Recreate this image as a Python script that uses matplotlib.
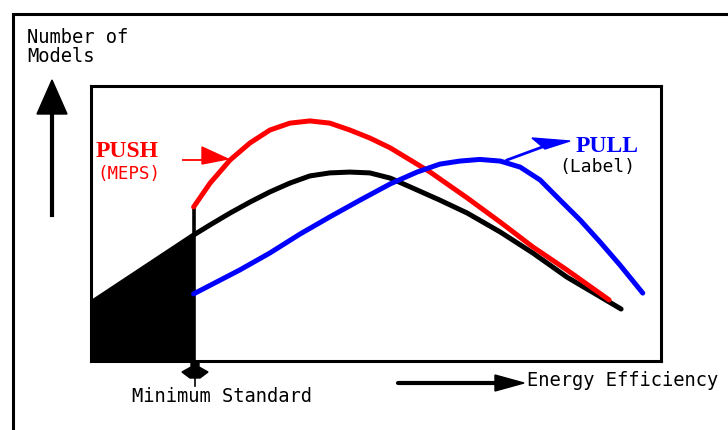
import matplotlib
matplotlib.use("Agg")
import matplotlib.pyplot as plt
from matplotlib.patches import Polygon

# ---------------- data (efficiency 0-100, number of models 0-100) ----------------
MIN_STANDARD = 18.0

black_x = [0.0, 18.0, 20.9, 24.4, 27.9, 31.4, 34.9, 38.4, 41.9, 45.4, 48.9, 52.5,
           56.0, 61.2, 66.0, 71.8, 77.5, 83.5, 93.0]
black_y = [21.1, 45.8, 49.5, 53.8, 57.8, 61.5, 64.7, 67.3, 68.4, 68.7, 68.4, 66.5,
           63.3, 58.5, 53.8, 46.9, 39.3, 30.5, 18.9]

push_x = [18.0, 20.9, 24.4, 27.9, 31.4, 34.9, 38.4, 41.9, 45.4, 48.9, 52.5, 56.0,
          59.5, 66.0, 71.8, 77.5, 83.5, 90.9]
push_y = [56.0, 64.7, 73.1, 79.3, 84.0, 86.5, 87.3, 86.5, 84.0, 81.1, 77.5, 73.1,
          68.7, 59.3, 50.5, 41.5, 33.1, 22.2]

pull_x = [18.0, 26.1, 31.4, 36.7, 41.9, 47.2, 52.5, 57.2, 61.2, 64.7, 68.2, 71.8,
          75.3, 78.8, 82.3, 85.8, 89.3, 92.8, 96.8]
pull_y = [24.4, 33.1, 39.3, 46.2, 52.4, 58.5, 64.4, 68.7, 71.6, 72.7, 73.3, 72.7,
          70.5, 65.8, 58.5, 51.3, 43.3, 34.9, 24.7]

y_label = "Number of\nModels"
x_label = "Energy Efficiency"
std_label = "Minimum Standard"
push_label, push_sub = "PUSH", "(MEPS)"
pull_label, pull_sub = "PULL", "(Label)"

# ---------------- figure ----------------
W, H = 728, 430
RED, BLUE, BLACK = "#ff0000", "#0000ff", "#000000"
MONO = "DejaVu Sans Mono"
SERIF = "Liberation Serif"

fig = plt.figure(figsize=(W / 100, H / 100), dpi=100)
fig.patch.set_facecolor("white")

ax = fig.add_axes([91 / W, (H - 361) / H, 570 / W, 275 / H])
ax.set_xlim(0, 100)
ax.set_ylim(0, 100)
ax.set_xticks([])
ax.set_yticks([])
for s in ax.spines.values():
    s.set_linewidth(2.2)

# shaded models below the minimum standard
fx = [x for x in black_x if x <= MIN_STANDARD]
fy = black_y[:len(fx)]
ax.fill_between(fx, 0, fy, color=BLACK, linewidth=0)

lw = 3.6
ax.plot(black_x, black_y, color=BLACK, lw=lw, solid_capstyle="round", solid_joinstyle="round")
ax.plot([MIN_STANDARD, MIN_STANDARD], [0, push_y[0]], color=BLACK, lw=2.6)
ax.plot(push_x, push_y, color=RED, lw=lw, solid_capstyle="round", solid_joinstyle="round")
ax.plot(pull_x, pull_y, color=BLUE, lw=lw, solid_capstyle="round", solid_joinstyle="round")

# ---------------- overlay in pixel coordinates for annotations ----------------
ov = fig.add_axes([0, 0, 1, 1], zorder=3)
ov.set_xlim(0, W)
ov.set_ylim(H, 0)
ov.axis("off")
ov.patch.set_alpha(0)

# outer frame (top and left)
ov.plot([12.5, 12.5, W + 2], [H + 2, 14, 14], color=BLACK, lw=2.2, solid_joinstyle="miter")

# vertical axis arrow
ov.plot([52, 52], [215, 108], color=BLACK, lw=3)
ov.add_patch(Polygon([(52, 80), (37, 114), (67, 114)], closed=True, color=BLACK))

# horizontal axis arrow
ov.plot([398, 500], [383, 383], color=BLACK, lw=3, solid_capstyle="round")
ov.add_patch(Polygon([(524, 383), (495, 375), (495, 391)], closed=True, color=BLACK))

# minimum-standard pin
ov.add_patch(Polygon([(191, 362), (199, 362), (199, 367), (208, 372), (200, 378),
                      (190, 378), (182, 372), (191, 367)], closed=True, color=BLACK))
ov.plot([195, 195], [377, 386], color=BLACK, lw=1.2)

# PUSH arrow
ov.plot([183, 206], [160, 160], color=RED, lw=1.3)
ov.add_patch(Polygon([(202, 147), (202, 164), (228, 159)], closed=True, color=RED))

# PULL arrow
ov.plot([507, 545], [160, 146], color=BLUE, lw=2)
ov.add_patch(Polygon([(532, 138), (545, 149), (570, 141)], closed=True, color=BLUE))

# texts
ov.text(27, 43, y_label.split("\n")[0], family=MONO, fontsize=13.5, va="baseline", ha="left")
ov.text(27, 62, y_label.split("\n")[1], family=MONO, fontsize=13.5, va="baseline", ha="left")
ov.text(132, 396, std_label, family=MONO, fontsize=13.5, va="center", ha="left")
ov.text(527, 381, x_label, family=MONO, fontsize=13.5, va="center", ha="left")

ov.text(96, 157, push_label, family=SERIF, weight="bold", fontsize=17, color=RED,
        va="baseline", ha="left")
ov.text(97, 174, push_sub, family=MONO, fontsize=12.5, color=RED, va="center", ha="left")
ov.text(576, 152, pull_label, family=SERIF, weight="bold", fontsize=17, color=BLUE,
        va="baseline", ha="left")
ov.text(559, 167, pull_sub, family=MONO, fontsize=13, color=BLACK, va="center", ha="left")

fig.savefig("out.png", dpi=100, facecolor="white")
